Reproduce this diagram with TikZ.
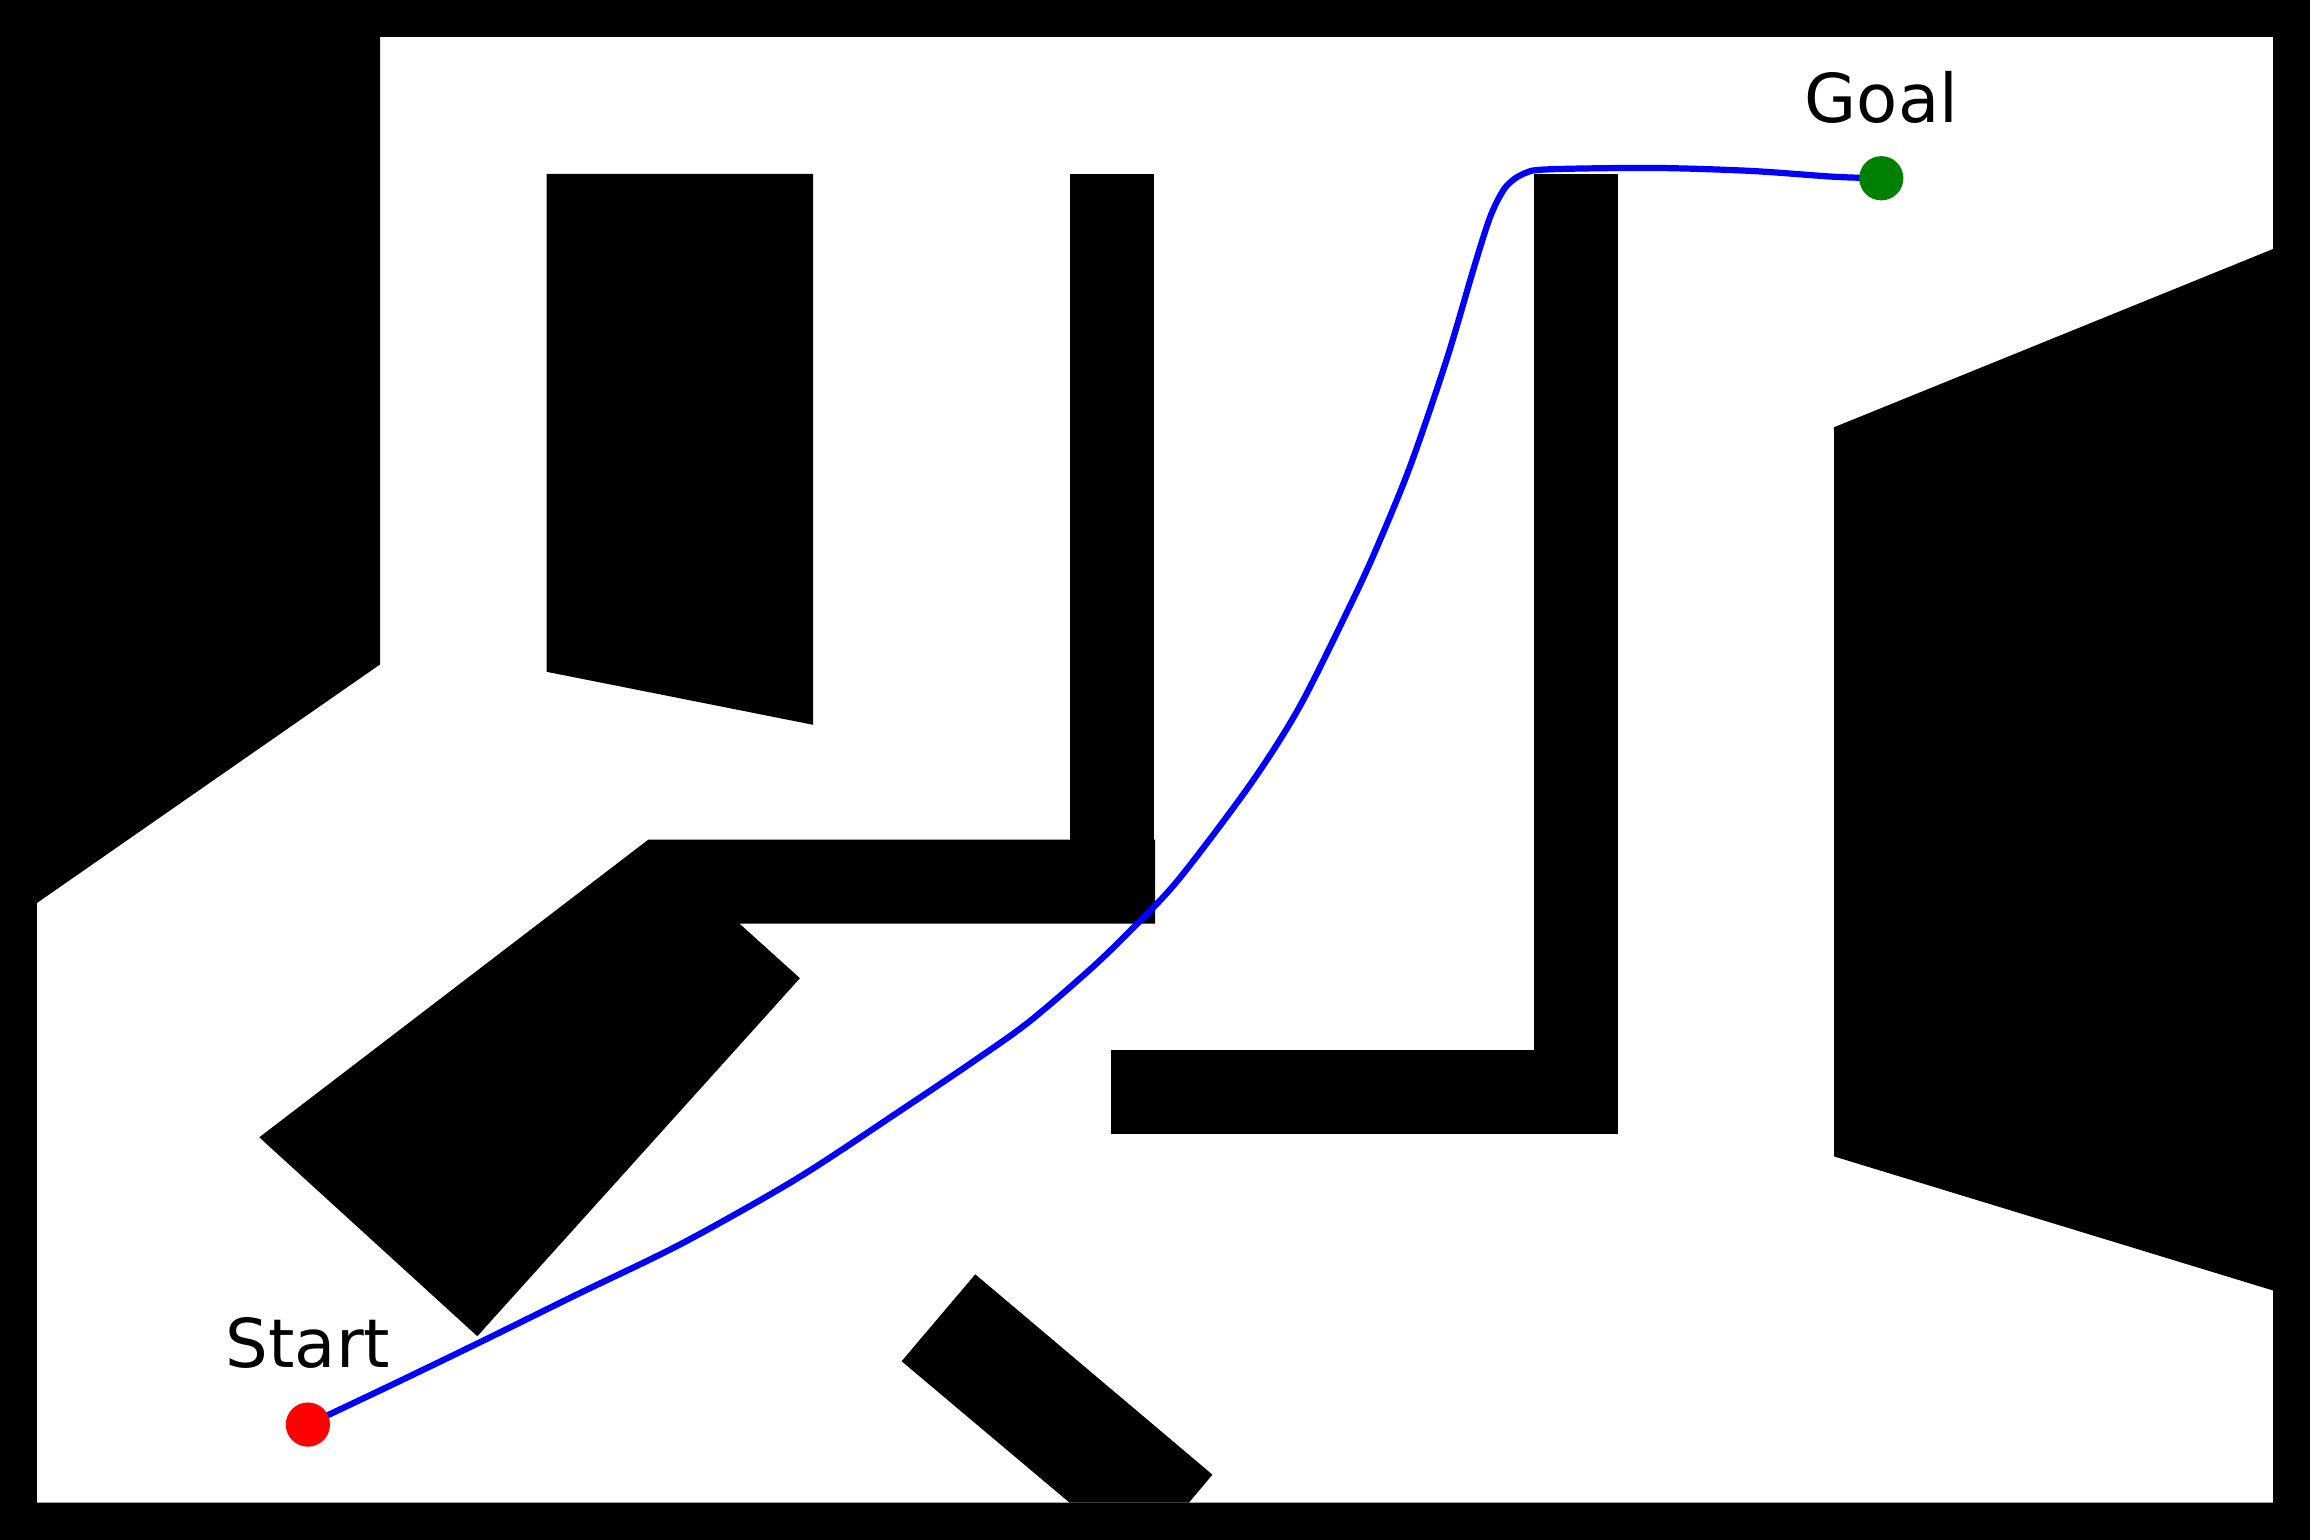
\documentclass[tikz,border=0pt]{standalone}
\usepackage{fontspec}
\setmainfont{DejaVu Sans}
\usepackage{tikz}
\definecolor{goalgreen}{RGB}{0,128,0}
\tikzset{
  obstacle/.style={fill=black},
  route/.style={draw=blue, line width=1.2pt, line join=round},
  dot/.style={circle, inner sep=0pt, minimum size=0.30cm},
  lbl/.style={anchor=base, font=\fontsize{13}{15}\selectfont}
}

\begin{document}
\begin{tikzpicture}[x=0.01cm, y=-0.01cm]
				\useasboundingbox (0,0) rectangle (1568,1045.33);
				\fill[white] (0,0) rectangle (1568,1045.33);
				% frame
				\fill[even odd rule] (0,0) rectangle (1568,1045.33) (25,25) rectangle (1543,1020);
				% obstacles
				\fill[obstacle] (25,25) -- (258,25) -- (258,451) -- (25,613) -- cycle;
				\fill[obstacle] (371,118) -- (552,118) -- (552,492) -- (371,456) -- cycle;
				\fill[obstacle] (726,118) rectangle (783,571);
				\fill[obstacle] (440,570) -- (784,570) -- (784,627) -- (502,627) -- (543,664) -- (324,907) -- (176,772) -- cycle;
				\fill[obstacle] (1041,118) rectangle (1098,770);
				\fill[obstacle] (754,713) rectangle (1098,770);
				\fill[obstacle] (1245,290) -- (1543,169) -- (1543,876) -- (1245,785) -- cycle;
				\fill[obstacle] (612,924) -- (662,865) -- (823,1001) -- (807,1020) -- (726,1020) -- cycle;
				% path
				\coordinate (startpt) at (209,967);
				\coordinate (goalpt) at (1277,121);
				\draw[route] plot[smooth, tension=0.5] coordinates {(startpt) (266,940) (325,911.5) (391,879) (463,844) (541,800) (611,754) (660,721) (698,694) (740,658) (768,631) (800,597) (849,532) (882,480) (916,412) (934,373) (957,317) (982,244) (1001,180) (1012,146) (1022,127) (1034,118) (1050,115) (1122,114) (1188,116) (1245,120) (goalpt)};
				\node[dot, fill=red] (start) at (startpt) {};
				\node[dot, fill=goalgreen] (goal) at (goalpt) {};
				\node[lbl] (startlbl) at (209,928) {Start};
				\node[lbl] (goallbl) at (1277,83) {Goal};
			\end{tikzpicture}
\end{document}
